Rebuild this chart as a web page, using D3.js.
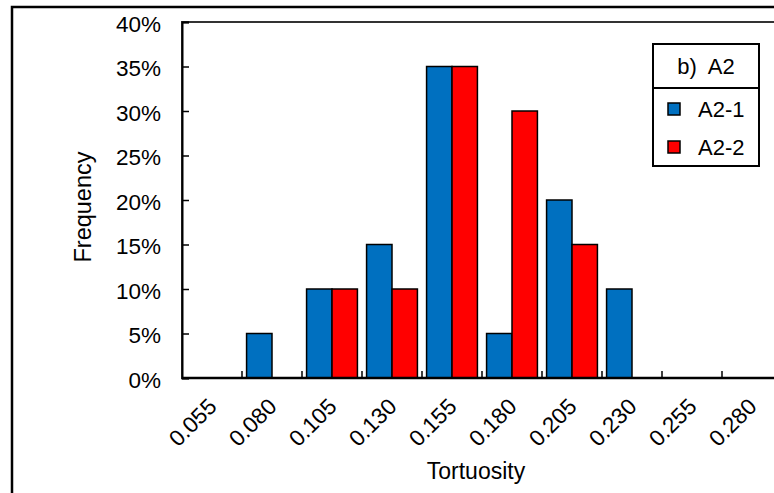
<!DOCTYPE html>
<html>
<head>
<meta charset="utf-8">
<script src="https://cdn.jsdelivr.net/npm/d3@7"></script>
<style>
  body { margin: 0; background: #fff; }
  svg { display: block; font-family: "Liberation Sans", Arial, sans-serif; }
</style>
</head>
<body>
<svg id="chart" width="774" height="493"></svg>
<script>
// bin labels (tortuosity) and frequencies in %
const categories = ["0.055", "0.080", "0.105", "0.130", "0.155", "0.180", "0.205", "0.230", "0.255", "0.280"];
const seriesNames = ["A2-1", "A2-2"];
const a21 = [0, 5, 10, 15, 35, 5, 20, 10, 0, 0];
const a22 = [0, 0, 10, 10, 35, 30, 15, 0, 0, 0];
const yTicks = [0, 5, 10, 15, 20, 25, 30, 35, 40];
const colors = ["#0070C0", "#FF0000"];

const margin = { top: 22, left: 182 };
const plotW = 600, plotH = 356;
const fs = 22.5;

const svg = d3.select("#chart");

// outer chart border (runs off the right/bottom of the picture)
svg.append("rect")
  .attr("x", 12).attr("y", 7)
  .attr("width", 820).attr("height", 600)
  .attr("fill", "none").attr("stroke", "#000").attr("stroke-width", 2.5);

const g = svg.append("g").attr("transform", `translate(${margin.left},${margin.top})`);

const x0 = d3.scaleBand().domain(categories).range([0, plotW]).padding(0);
const x1 = d3.scaleBand().domain(seriesNames).range([0, x0.bandwidth()])
  .paddingInner(0).paddingOuter(0.18);
const y = d3.scaleLinear().domain([0, 40]).range([plotH, 0]);

// plot area frame
g.append("rect")
  .attr("x", 0).attr("y", 0).attr("width", plotW).attr("height", plotH)
  .attr("fill", "none").attr("stroke", "#333").attr("stroke-width", 2);

// bars
const data = categories.map((c, i) => ({ cat: c, vals: [a21[i], a22[i]] }));
const groups = g.selectAll(".grp").data(data).enter().append("g")
  .attr("class", "grp")
  .attr("transform", (d) => `translate(${x0(d.cat)},0)`);

groups.selectAll("rect")
  .data((d) => d.vals.map((v, k) => ({ key: seriesNames[k], v, k })).filter((e) => e.v > 0))
  .enter().append("rect")
  .attr("x", (d) => x1(d.key))
  .attr("y", (d) => y(d.v))
  .attr("width", x1.bandwidth())
  .attr("height", (d) => y(0) - y(d.v))
  .attr("fill", (d) => colors[d.k])
  .attr("stroke", "#000")
  .attr("stroke-width", 1.5);

// y axis
const yAxis = g.append("g")
  .call(d3.axisLeft(y).tickValues(yTicks).tickSize(-7).tickPadding(21).tickFormat((d) => d + "%"));
yAxis.select(".domain").attr("stroke", "#000").attr("stroke-width", 2);
yAxis.selectAll(".tick line").attr("stroke", "#000").attr("stroke-width", 1.5);
yAxis.selectAll(".tick text")
  .attr("font-size", fs).attr("fill", "#000").attr("dy", "0.42em")
  .attr("font-family", "Liberation Sans, Arial, sans-serif");

// x axis line and category-boundary ticks
const xAxis = g.append("g").attr("transform", `translate(0,${plotH})`);
xAxis.append("line")
  .attr("x1", 0).attr("x2", plotW)
  .attr("stroke", "#000").attr("stroke-width", 2.5);
xAxis.selectAll(".xt").data(categories.slice(1)).enter().append("line")
  .attr("class", "xt")
  .attr("x1", (d) => x0(d)).attr("x2", (d) => x0(d))
  .attr("y1", 0).attr("y2", -7)
  .attr("stroke", "#000").attr("stroke-width", 1.5);

xAxis.selectAll(".xl").data(categories).enter().append("text")
  .attr("class", "xl")
  .attr("transform", (d) => `translate(${x0(d) + x0.bandwidth() / 2 + 6},30) rotate(-45)`)
  .attr("text-anchor", "end")
  .attr("font-size", fs)
  .text((d) => d);

// axis titles
svg.append("text")
  .attr("x", 476).attr("y", 479)
  .attr("text-anchor", "middle").attr("font-size", 23)
  .text("Tortuosity");

svg.append("text")
  .attr("transform", "translate(91,207) rotate(-90)")
  .attr("text-anchor", "middle").attr("font-size", 23.5)
  .text("Frequency");

// legend
const lg = svg.append("g").attr("transform", "translate(653,44)");
lg.append("rect")
  .attr("width", 106).attr("height", 122)
  .attr("fill", "#fff").attr("stroke", "#000").attr("stroke-width", 2);
lg.append("line")
  .attr("x1", 0).attr("x2", 106).attr("y1", 44).attr("y2", 44)
  .attr("stroke", "#000").attr("stroke-width", 2);
lg.append("text")
  .attr("x", 53).attr("y", 30)
  .attr("text-anchor", "middle").attr("font-size", 22)
  .style("white-space", "pre")
  .text("b)  A2");

const items = lg.selectAll(".li").data(seriesNames).enter().append("g")
  .attr("class", "li")
  .attr("transform", (d, i) => `translate(0,${59 + i * 38})`);
items.append("rect")
  .attr("x", 15).attr("y", 0).attr("width", 12).attr("height", 12)
  .attr("fill", (d, i) => colors[i]).attr("stroke", "#000").attr("stroke-width", 1.5);
items.append("text")
  .attr("x", 45).attr("y", 14)
  .attr("font-size", 22)
  .text((d) => d);
</script>
</body>
</html>
